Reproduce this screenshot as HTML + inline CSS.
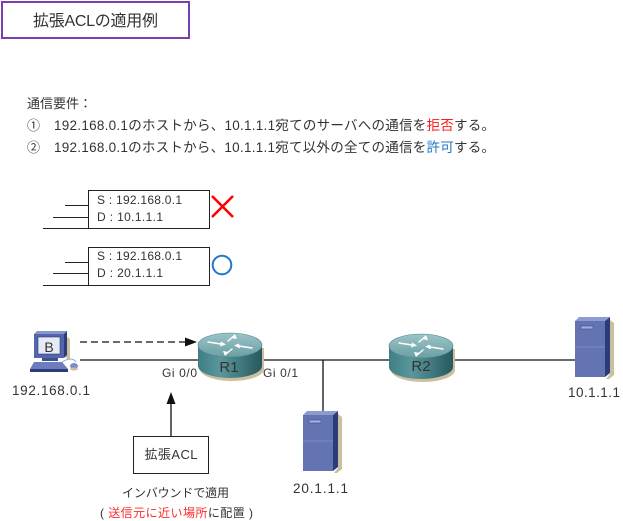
<!DOCTYPE html>
<html><head><meta charset="utf-8">
<style>
html,body{margin:0;padding:0;background:#fff;}
svg{display:block;}
text{font-family:"Liberation Sans","Noto Sans CJK JP",sans-serif;fill:#333;}
</style></head>
<body>
<svg width="623" height="521" viewBox="0 0 623 521" xmlns="http://www.w3.org/2000/svg">
<defs>
  <linearGradient id="rside" x1="0" y1="0" x2="1" y2="0">
    <stop offset="0" stop-color="#3f7e84"/>
    <stop offset="0.35" stop-color="#5a979c"/>
    <stop offset="1" stop-color="#25595e"/>
  </linearGradient>
  <linearGradient id="rtop" x1="0" y1="0" x2="0" y2="1">
    <stop offset="0" stop-color="#9cc4c7"/>
    <stop offset="1" stop-color="#6b9fa4"/>
  </linearGradient>
  <g id="router">
    <path d="M-30,3 L-30,24 A32,12 0 0 0 34,24 L34,3 Z" fill="#cbbf9f"/>
    <path d="M-32,0 L-32,21 A32,12 0 0 0 32,21 L32,0 Z" fill="url(#rside)"/>
    <ellipse cx="0" cy="0" rx="32" ry="12" fill="url(#rtop)" stroke="#4d878c" stroke-width="0.6"/>
    <g fill="#fff" stroke="#fff" stroke-width="1.4" stroke-linecap="round">
      <line x1="-22" y1="-3" x2="-9" y2="-1"/>
      <polygon points="-9,-3.5 -4,-0.5 -10,1.5" stroke="none"/>
      <line x1="22" y1="3" x2="9" y2="1"/>
      <polygon points="9,-1.5 4,0.5 10,3.5" stroke="none"/>
      <line x1="4" y1="-9" x2="-2" y2="-4"/>
      <polygon points="5,-11 7,-6 1,-7" stroke="none"/>
      <line x1="-4" y1="9" x2="2" y2="4"/>
      <polygon points="-5,11 -7,6 -1,7" stroke="none"/>
    </g>
  </g>
  <g id="server">
    <polygon points="35,3 39,6 39,58 34,62 31,62 35,57" fill="#cbbf9f"/>
    <rect x="0" y="4" width="30" height="56" fill="#6474b3"/>
    <polygon points="0,4 4,0 35,0 30,4" fill="#8e9bd0"/>
    <polygon points="30,4 35,0 35,56 30,60" fill="#2a3c7c"/>
    <rect x="6" y="9" width="12" height="3" fill="#a3aedc" stroke="#3b4b8c" stroke-width="0.6"/>
    <line x1="0" y1="30" x2="30" y2="30" stroke="#8391c8" stroke-width="0.8"/>
  </g>
</defs>

<!-- Title -->
<rect x="2" y="2" width="187" height="36" fill="#fff" stroke="#7a3fb0" stroke-width="2"/>
<text x="33" y="26" font-size="16" fill="#222" textLength="125">拡張ACLの適用例</text>

<!-- Requirements -->
<text x="27" y="108" font-size="13">通信要件：</text>
<text x="27" y="130" font-size="13">①</text>
<text x="54" y="130" font-size="13.5" textLength="441">192.168.0.1のホストから、10.1.1.1宛てのサーバへの通信を<tspan fill="#ff1a1a">拒否</tspan>する。</text>
<text x="27" y="152" font-size="13">②</text>
<text x="54" y="152" font-size="13.5" textLength="441">192.168.0.1のホストから、10.1.1.1宛て以外の全ての通信を<tspan fill="#1f78c8">許可</tspan>する。</text>

<!-- Packets -->
<g stroke="#222" stroke-width="1" fill="none">
  <rect x="88.5" y="190.5" width="121" height="38" fill="#fff"/>
  <line x1="65" y1="205.5" x2="88" y2="205.5"/>
  <line x1="53" y1="217.5" x2="88" y2="217.5"/>
  <line x1="43" y1="228.5" x2="88" y2="228.5"/>
  <rect x="88.5" y="247.5" width="121" height="38" fill="#fff"/>
  <line x1="65" y1="262.5" x2="88" y2="262.5"/>
  <line x1="53" y1="273.5" x2="88" y2="273.5"/>
  <line x1="43" y1="285.5" x2="88" y2="285.5"/>
</g>
<text x="97" y="204" font-size="12" textLength="85">S : 192.168.0.1</text>
<text x="97" y="221" font-size="12" textLength="66">D : 10.1.1.1</text>
<text x="97" y="260" font-size="12" textLength="85">S : 192.168.0.1</text>
<text x="97" y="277" font-size="12" textLength="66">D : 20.1.1.1</text>
<g stroke="#ff0000" stroke-width="2.6" stroke-linecap="butt">
  <line x1="212" y1="196" x2="233" y2="217"/>
  <line x1="233" y1="196" x2="212" y2="217"/>
</g>
<circle cx="222" cy="265" r="9.3" fill="none" stroke="#1f78c8" stroke-width="2"/>

<!-- Network links -->
<g stroke="#111" stroke-width="1.3" fill="none">
  <line x1="80" y1="360" x2="200" y2="360"/>
  <line x1="260" y1="360" x2="392" y2="360"/>
  <line x1="451" y1="360" x2="576" y2="360"/>
  <line x1="323" y1="360" x2="323" y2="413"/>
  <line x1="80" y1="342" x2="186" y2="342" stroke-dasharray="7,4"/>
  <line x1="171" y1="403" x2="171" y2="436"/>
</g>
<polygon points="185,337.5 197,342 185,346.5" fill="#111"/>
<polygon points="166.5,404 171,392 175.5,404" fill="#111"/>

<!-- PC -->
<g>
  <polygon points="66,336 70,339 70,360 66,358" fill="#cbbf9f"/>
  <rect x="34" y="334" width="30" height="24" fill="#5365ab"/>
  <polygon points="34,334 37,331 67,331 64,334" fill="#8795cc"/>
  <polygon points="64,334 67,331 67,355 64,358" fill="#2d3d7c"/>
  <rect x="38" y="337" width="22" height="17" fill="#e6eaf4" stroke="#2d3d7c" stroke-width="0.6"/>
  <text x="49" y="352" font-size="14" text-anchor="middle" fill="#111">B</text>
  <polygon points="42,358 58,358 58,361 42,361" fill="#3d4f94"/>
  <polygon points="34,362 62,362 68,369 30,369" fill="#6c7cbc"/>
  <polygon points="30,369 68,369 68,372 30,372" fill="#2d3d7c"/>
  <path d="M62,362 Q72,356 76,362" stroke="#9aa6d8" stroke-width="1" fill="none"/>
  <ellipse cx="74" cy="366" rx="4" ry="3" fill="#7f8dc8"/>
  <ellipse cx="74" cy="369" rx="4" ry="1.5" fill="#cbbf9f"/>
</g>

<!-- Routers -->
<use href="#router" x="230" y="345"/>
<use href="#router" x="421" y="346"/>
<text x="229" y="372" font-size="15" text-anchor="middle" fill="#111">R1</text>
<text x="421" y="371" font-size="15" text-anchor="middle" fill="#111">R2</text>

<!-- Servers -->
<use href="#server" x="575" y="317"/>
<use href="#server" x="303" y="411"/>

<!-- Labels -->
<text x="12" y="395" font-size="13.5" textLength="78">192.168.0.1</text>
<text x="162" y="377" font-size="12" textLength="35">Gi 0/0</text>
<text x="263" y="377" font-size="12" textLength="35">Gi 0/1</text>
<text x="568" y="397" font-size="13.5" textLength="52">10.1.1.1</text>
<text x="293" y="493" font-size="13.5" textLength="55">20.1.1.1</text>

<!-- ACL box -->
<rect x="133.5" y="436.5" width="75" height="37" fill="#fff" stroke="#222" stroke-width="1"/>
<text x="171" y="459" font-size="13" text-anchor="middle" textLength="53">拡張ACL</text>
<text x="122" y="497" font-size="12" textLength="107">インバウンドで適用</text>
<text x="100" y="517" font-size="12" textLength="153">(  <tspan fill="#ff2a2a">送信元に近い場所</tspan>に配置  )</text>
</svg>
</body></html>
